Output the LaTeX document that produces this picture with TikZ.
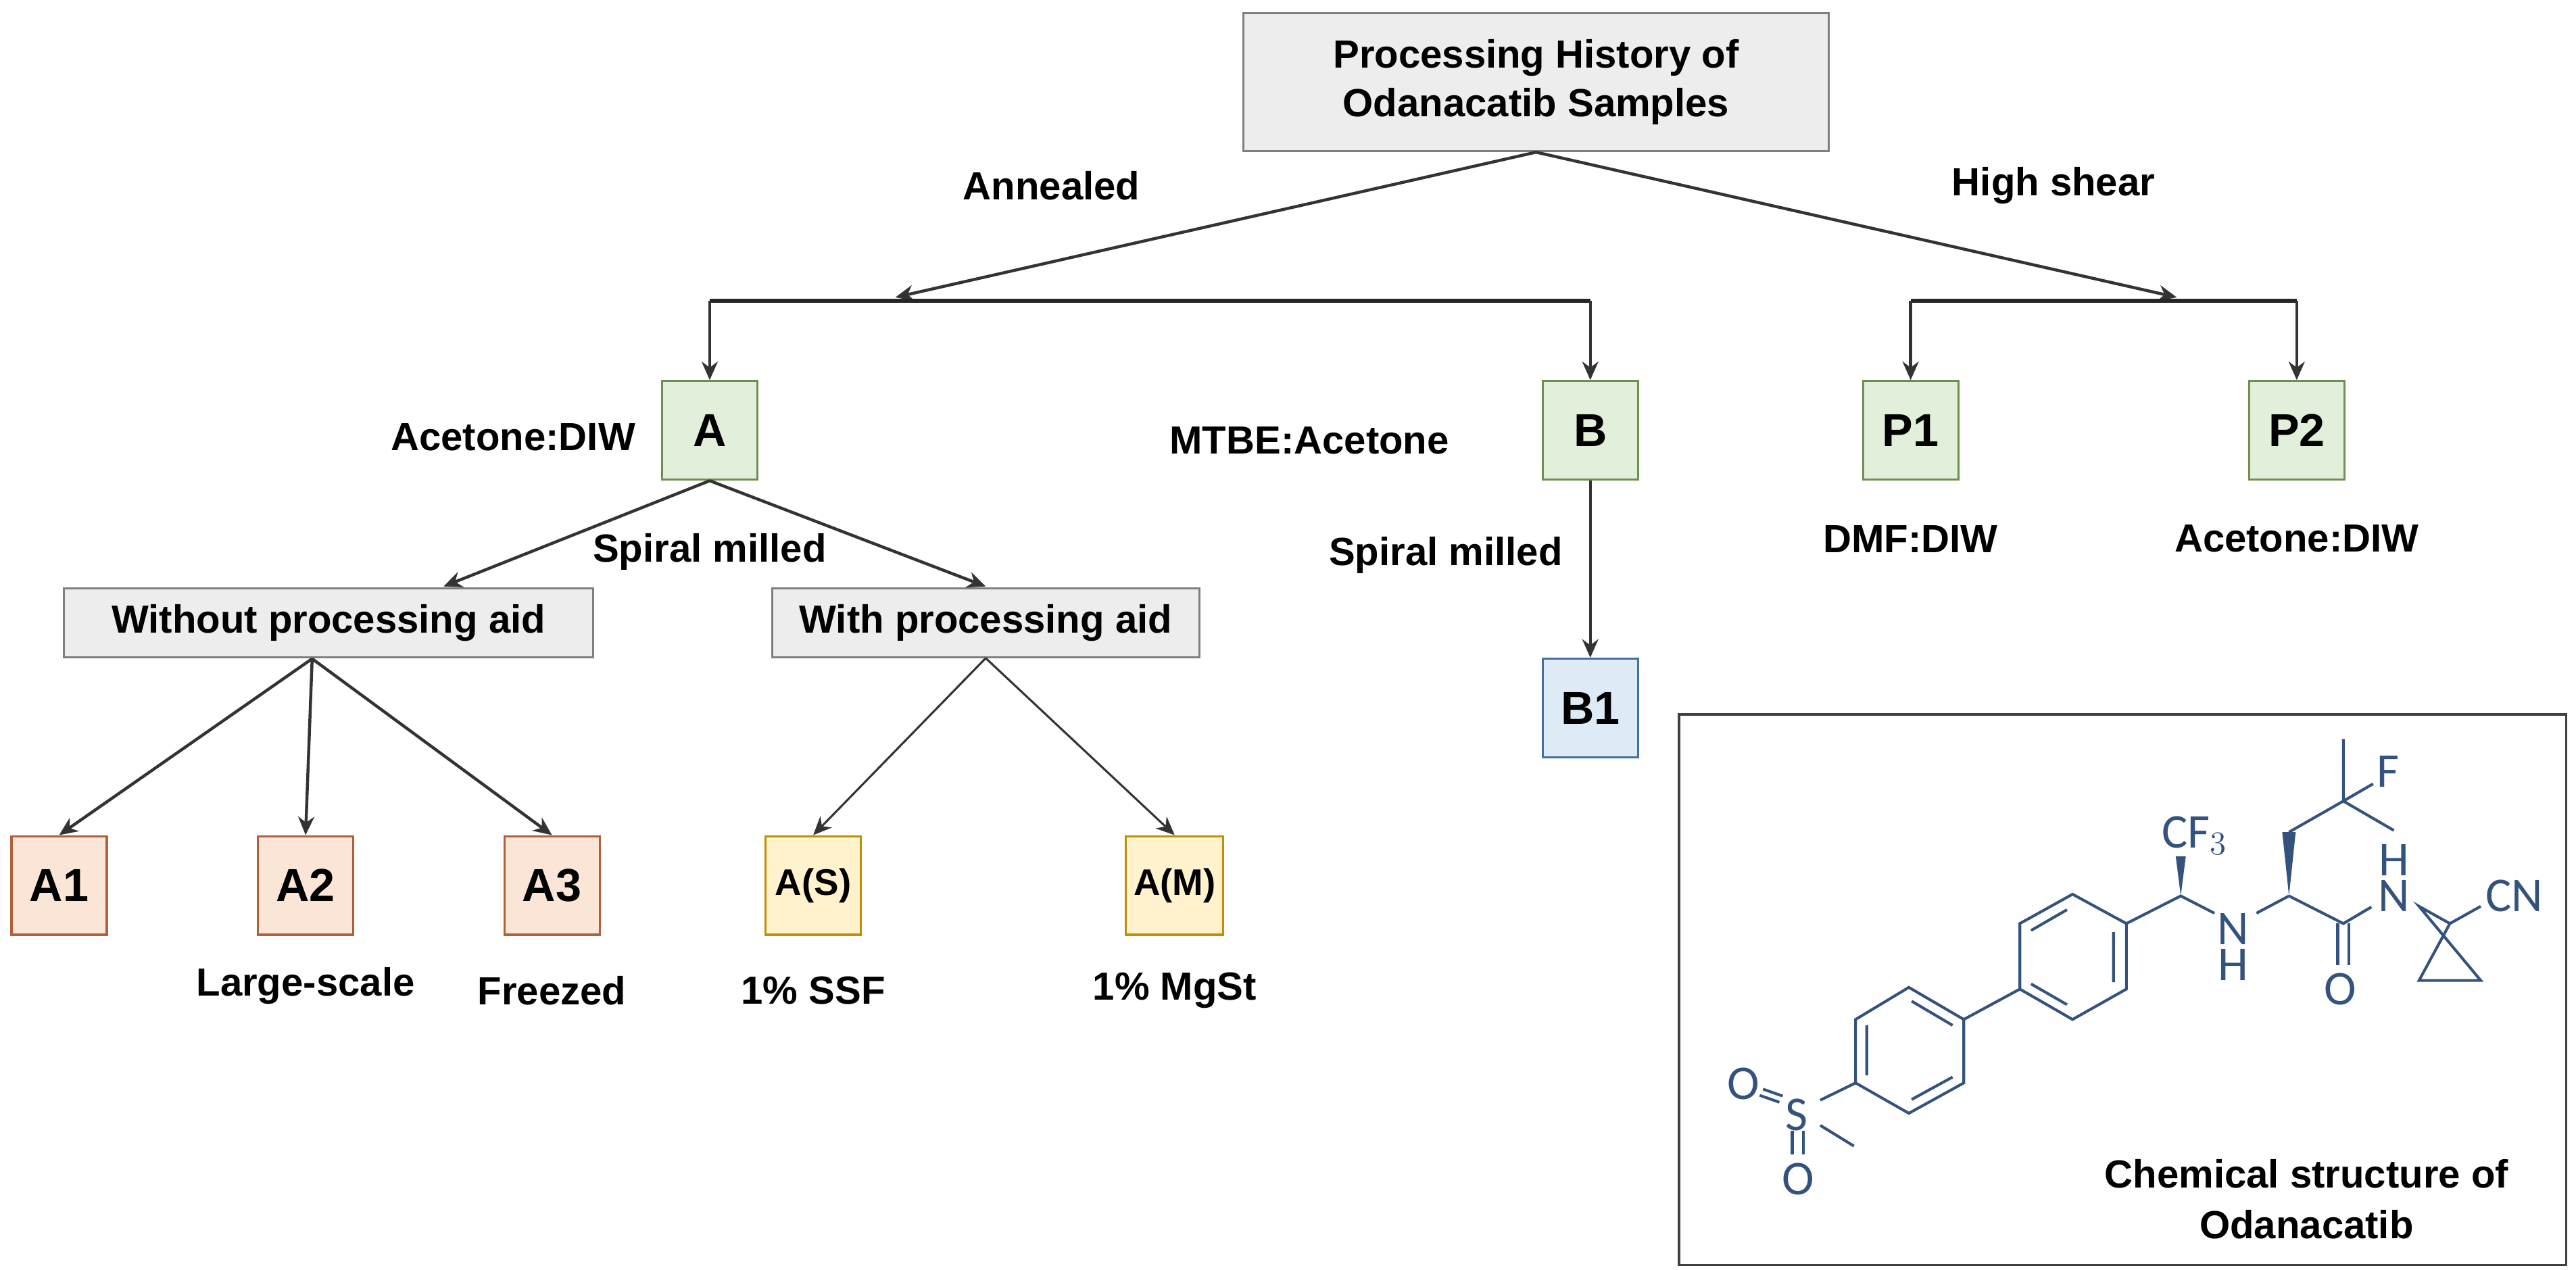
\documentclass[tikz,border=0pt]{standalone}
\usepackage{fontspec}
\setmainfont{Liberation Sans}
\newfontfamily\chemf{Carlito}
\usetikzlibrary{arrows.meta}
\definecolor{gfill}{HTML}{E2EFDA}\definecolor{gline}{HTML}{6D8F4F}
\definecolor{bfill}{HTML}{DEEBF7}\definecolor{bline}{HTML}{41719C}
\definecolor{ofill}{HTML}{FBE5D6}\definecolor{oline}{HTML}{B0603A}
\definecolor{yfill}{HTML}{FFF2CC}\definecolor{yline}{HTML}{BF9000}
\definecolor{grfill}{HTML}{EDEDED}\definecolor{grline}{HTML}{7F7F7F}
\definecolor{chem}{HTML}{34527E}
\begin{document}
\begin{tikzpicture}[x=0.025cm,y=-0.025cm,
  lab/.style={font=\bfseries\fontsize{17}{20}\selectfont,align=center,inner sep=0},
  bx/.style={draw,line width=0.9pt,minimum width=1.45cm,minimum height=1.5cm,font=\bfseries\fontsize{20}{22}\selectfont},
  gbox/.style={draw=grline,fill=grfill,line width=0.9pt,font=\bfseries\fontsize{17}{21}\selectfont,align=center},
  arr/.style={-{Stealth[length=8pt,width=7pt]},line width=1.3pt,draw=black!80},
  cb/.style={line width=1.2pt,draw=chem},
  atm/.style={text=chem,font=\chemf\fontsize{21}{21}\selectfont,inner sep=0}]
\useasboundingbox (0,0) rectangle (1568,773);
\node[gbox,minimum width=8.9cm,minimum height=2.1cm] (T) at (935,50) {Processing History of\\Odanacatib Samples};
\node[lab] at (640,113) {Annealed};
\node[lab] at (1250,113) {High shear};
\coordinate (an) at (545,181);
\coordinate (hs) at (1325,181);
\draw[arr] (T.south) -- (an);
\draw[arr] (T.south) -- (hs);
\node[bx,draw=gline,fill=gfill] (A) at (432,262) {A};
\node[bx,draw=gline,fill=gfill] (B) at (968,262) {B};
\node[bx,draw=gline,fill=gfill] (P1) at (1163,262) {P1};
\node[bx,draw=gline,fill=gfill] (P2) at (1398,262) {P2};
\node[bx,draw=bline,fill=bfill] (B1) at (968,431) {B1};
\coordinate (l1) at (432,183); \coordinate (l2) at (968,183);
\coordinate (r1) at (1163,183); \coordinate (r2) at (1398,183);
\draw[line width=1.6pt,black!85] (l1) -- (l2);
\draw[line width=1.6pt,black!85] (r1) -- (r2);
\draw[arr] (l1) -- (A.north);
\draw[arr] (l2) -- (B.north);
\draw[arr] (r1) -- (P1.north);
\draw[arr] (r2) -- (P2.north);
\draw[arr] (B.south) -- (B1.north);
\node[lab,anchor=east] at (387,266) {Acetone:DIW};
\node[lab] at (797,268) {MTBE:Acetone};
\node[lab] at (880,338) {Spiral milled};
\node[lab] at (1163,328) {DMF:DIW};
\node[lab] at (1398,328) {Acetone:DIW};
\node[lab] at (432,336) {Spiral milled};
\node[gbox,minimum width=8.05cm,minimum height=1.05cm] (W) at (200,379) {Without processing aid};
\node[gbox,minimum width=6.5cm,minimum height=1.05cm] (WP) at (600,379) {With processing aid};
\draw[arr] (A.south) -- (270,357);
\draw[arr] (A.south) -- (600,357);
\node[bx,draw=oline,fill=ofill] (A1) at (36,539) {A1};
\node[bx,draw=oline,fill=ofill] (A2) at (186,539) {A2};
\node[bx,draw=oline,fill=ofill] (A3) at (336,539) {A3};
\node[bx,draw=yline,fill=yfill,font=\bfseries\fontsize{16}{18}\selectfont] (AS) at (495,539) {A(S)};
\node[bx,draw=yline,fill=yfill,font=\bfseries\fontsize{16}{18}\selectfont] (AM) at (715,539) {A(M)};
\coordinate (wb) at (190,401);
\draw[arr] (wb) -- (A1.north);
\draw[arr] (wb) -- (A2.north);
\draw[arr] (wb) -- (A3.north);
\draw[arr,line width=0.9pt] (WP.south) -- (AS.north);
\draw[arr,line width=0.9pt] (WP.south) -- (AM.north);
\node[lab] at (186,600) {Large-scale};
\node[lab] at (336,603) {Freezed};
\node[lab] at (495,603) {1\% SSF};
\node[lab] at (715,603) {1\% MgSt};
\draw[line width=1.1pt,black!75] (1022,435) rectangle (1562,770);
\node[lab] at (1404,730) {Chemical structure of\\[2pt]Odanacatib};
\begin{scope}[shift={(1028.8,436.2)},x=0.00853cm,y=-0.00525cm]
 \draw[cb] (390,785)--(488,878)--(488,1062)--(390,1150)--(295,1062)--(295,878)--cycle;
 \draw[cb] (395,825)--(468,895) (315,895)--(315,1040) (395,1110)--(468,1045);
 \draw[cb] (682,515)--(778,600)--(778,790)--(682,878)--(588,790)--(588,600)--cycle;
 \draw[cb] (608,620)--(672,560) (755,625)--(755,770) (608,775)--(672,835);
 \draw[cb] (488,878)--(588,790);
 \node[atm] at (190,1155) {S};
 \node[atm] at (95,1065) {O};
 \node[atm] at (192,1340) {O};
 \draw[cb] (295,1062)--(232,1112) (232,1185)--(292,1245);
 \draw[cb] (130,1080)--(165,1100) (124,1098)--(159,1118);
 \draw[cb] (182,1200)--(182,1270) (202,1200)--(202,1270);
 \draw[cb] (778,600)--(875,520)--(935,570);
 \fill[chem] (875,520)--(866,405)--(884,405)--cycle;
 \node[atm] at (900,345) {CF$_3$};
 \node[atm] at (968,615) {N};
 \node[atm] at (968,720) {H};
 \draw[cb] (1010,570)--(1068,520);
 \fill[chem] (1068,520)--(1056,335)--(1080,335)--cycle;
 \draw[cb] (1068,335)--(1165,245)--(1165,65) (1165,245)--(1218,195) (1165,245)--(1255,330);
 \node[atm] at (1245,160) {F};
 \draw[cb] (1068,520)--(1165,600)--(1215,552);
 \draw[cb] (1155,600)--(1155,720) (1175,600)--(1175,720);
 \node[atm] at (1160,790) {O};
 \node[atm] at (1255,520) {N};
 \node[atm] at (1255,415) {H};
 \draw[cb] (1300,550)--(1355,600)--(1300,765)--(1410,765)--cycle (1355,600)--(1410,550);
 \node[atm] at (1470,520) {CN};
\end{scope}
\end{tikzpicture}
\end{document}
